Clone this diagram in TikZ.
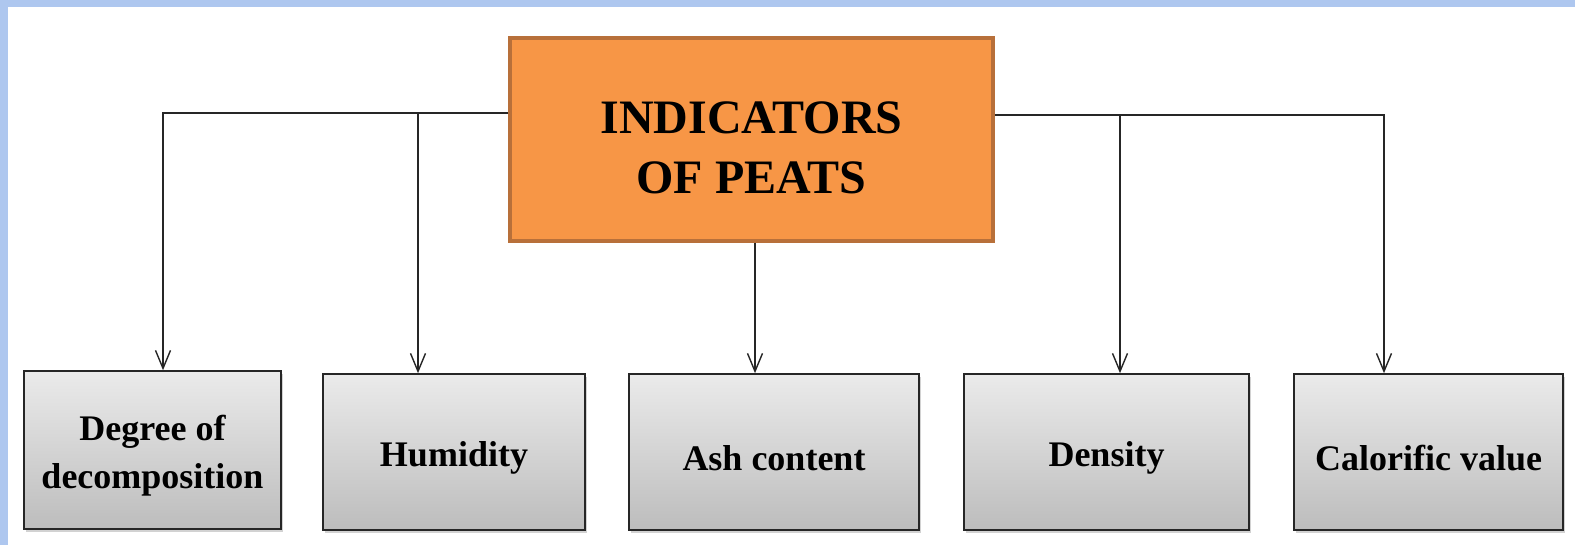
\documentclass[tikz,border=0pt]{standalone}
\usepackage{fontspec}
\setmainfont{Liberation Serif}
\usetikzlibrary{arrows.meta,shadows}
\definecolor{bandblue}{HTML}{AEC7EF}
\definecolor{peatfill}{HTML}{F79646}
\definecolor{peatedge}{HTML}{B8703A}
\definecolor{linegray}{HTML}{262626}
\tikzset{
  mainbox/.style={draw=peatedge, line width=3.5pt, fill=peatfill, inner sep=0pt},
  maintext/.style={inner sep=0pt, align=center, font=\fontsize{48}{60}\selectfont\bfseries, yshift=-8pt},
  itembox/.style={draw=black!85, line width=1.6pt, top color=black!8, bottom color=black!26,
    inner sep=0pt,
    drop shadow={shadow xshift=2pt, shadow yshift=-3pt, opacity=0.35}},
  itemtext/.style={inner sep=0pt, align=center, font=\fontsize{36}{48}\selectfont\bfseries, yshift=-6pt},
  conn/.style={draw=linegray, line width=1.3pt},
  arr/.style={conn, -{Straight Barb[length=18pt, width=15pt, line width=1.4pt]}}
}
\begin{document}
\begin{tikzpicture}[x=1pt, y=-1pt]
\useasboundingbox (0,0) rectangle (1575,545);
\fill[white] (0,0) rectangle (1575,545);
\fill[bandblue] (0,0) rectangle (1575,7);
\fill[bandblue] (0,0) rectangle (8,545);

\node[mainbox, minimum width=483pt, minimum height=203pt,
  label={[maintext]center:INDICATORS\\OF PEATS}] (top) at (751.5,139.5) {};

\node[itembox, minimum width=257pt, minimum height=158pt,
  label={[itemtext]center:Degree of\\decomposition}] (b1) at (152.5,450) {};
\node[itembox, minimum width=262pt, minimum height=156pt,
  label={[itemtext]center:Humidity}] (b2) at (454,452) {};
\node[itembox, minimum width=290pt, minimum height=156pt,
  label={[itemtext]center:Ash content}] (b3) at (774,452) {};
\node[itembox, minimum width=285pt, minimum height=156pt,
  label={[itemtext]center:Density}] (b4) at (1106.5,452) {};
\node[itembox, minimum width=269pt, minimum height=156pt,
  label={[itemtext]center:Calorific value}] (b5) at (1428.5,452) {};

\coordinate (j1) at (163,113);
\coordinate (j2) at (418,114);
\coordinate (j3) at (755,241);
\coordinate (j4) at (1120,115);
\coordinate (j5) at (1384,115);

\draw[arr] (top.west |- j1) -| (j1 |- b1.north);
\draw[arr] (j2) -- (j2 |- b2.north);
\draw[arr] (j3 |- top.south) -- (j3 |- b3.north);
\draw[arr] (j4) -- (j4 |- b4.north);
\draw[arr] (top.east |- j5) -| (j5 |- b5.north);
\end{tikzpicture}
\end{document}
